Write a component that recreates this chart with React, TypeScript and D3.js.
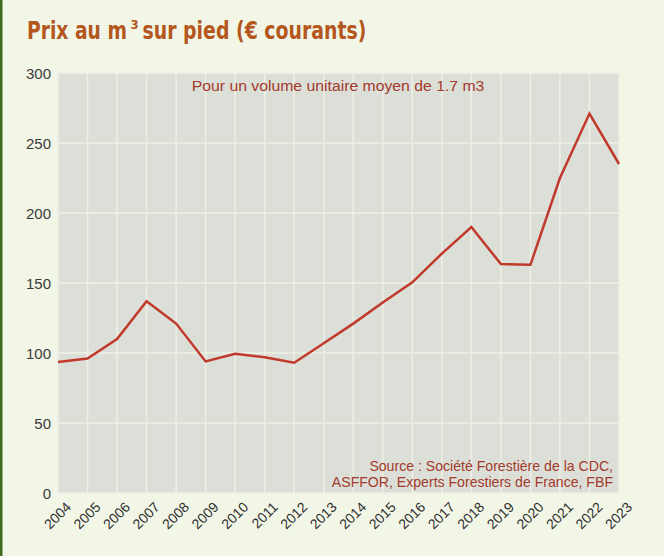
import React, { useLayoutEffect, useRef, useState } from "react";
import * as d3 from "d3";

const years = [2004, 2005, 2006, 2007, 2008, 2009, 2010, 2011, 2012, 2013, 2014, 2015, 2016, 2017, 2018, 2019, 2020, 2021, 2022, 2023];
const prices = [93.5, 96, 110, 137, 121, 94, 99.5, 97, 93, 107, 121, 136, 150.5, 171, 190, 163.5, 163, 225, 271, 235];
const yTicks = [0, 50, 100, 150, 200, 250, 300];
const titleA = "Prix au m";
const titleSup = "3";
const titleB = "sur pied (€ courants)";
const subtitle = "Pour un volume unitaire moyen de 1.7 m3";
const sourceLines = ["Source : Société Forestière de la CDC,", "ASFFOR, Experts Forestiers de France, FBF"];

const W = 664, H = 556;
const L = 58, R = 619, T = 73, B = 493;

export default function App() {
  const x = d3.scaleLinear().domain([years[0], years[years.length - 1]]).range([L, R]);
  const y = d3.scaleLinear().domain([0, 300]).range([B, T]);
  const line = d3.line<number>().x((_, i) => x(years[i])).y((d) => y(d));
  const sans = "'Liberation Sans', Arial, sans-serif";
  const titleFont = "'Liberation Sans Narrow', 'DejaVu Sans Condensed', 'Roboto Condensed', Roboto, sans-serif";
  const refA = useRef<SVGTextElement>(null);
  const refB = useRef<SVGTextElement>(null);
  const refS = useRef<SVGTextElement>(null);
  const [sc, setSc] = useState({ a: 1, b: 1, s: 1 });
  useLayoutEffect(() => {
    const wa = refA.current ? refA.current.getComputedTextLength() : 0;
    const wb = refB.current ? refB.current.getComputedTextLength() : 0;
    const ws = refS.current ? refS.current.getComputedTextLength() : 0;
    setSc({ a: wa ? 100 / wa : 1, b: wb ? 224 / wb : 1, s: ws ? 293 / ws : 1 });
  }, []);
  return (
    <svg width={W} height={H} style={{ position: "absolute", left: 0, top: 0 }}>
      <rect x={0} y={0} width={W} height={H} fill="#f2f6e7" />
      <rect x={0} y={0} width={2.5} height={H} fill="#3d6b1f" />
      <text ref={refA} transform={`translate(27,38.5) scale(${sc.a},1)`} fill="#b4561d" fontFamily={titleFont} fontWeight="bold" fontSize={24}>{titleA}</text>
      <text x={130.5} y={29} fill="#b4561d" fontFamily={titleFont} fontWeight="bold" fontSize={13}>{titleSup}</text>
      <text ref={refB} transform={`translate(142.5,38.5) scale(${sc.b},1)`} fill="#b4561d" fontFamily={titleFont} fontWeight="bold" fontSize={24}>{titleB}</text>
      <rect x={L} y={T} width={R - L} height={B - T} fill="#dcdfd8" />
      {yTicks.map((t) => (
        <line key={"h" + t} x1={L} x2={R} y1={y(t)} y2={y(t)} stroke="#eef0e4" strokeWidth={1.5} />
      ))}
      {years.map((yr) => (
        <line key={"v" + yr} x1={x(yr)} x2={x(yr)} y1={T} y2={B} stroke="#eef0e4" strokeWidth={1.5} />
      ))}
      <path d={line(prices) || ""} fill="none" stroke="#c0392b" strokeWidth={2.5} strokeLinejoin="miter" />
      {yTicks.map((t) => (
        <text key={"yl" + t} x={51} y={y(t) + 5.5} textAnchor="end" fill="#3a3a3a" fontFamily={sans} fontSize={15}>{t}</text>
      ))}
      {years.map((yr) => (
        <text key={"xl" + yr} transform={`translate(${x(yr) + 14},${B + 15}) rotate(-45)`} textAnchor="end" fill="#2e2e2e" fontFamily={sans} fontSize={14}>{yr}</text>
      ))}
      <text ref={refS} transform={`translate(338,91) scale(${sc.s},1)`} textAnchor="middle" fill="#a33a2c" fontFamily={sans} fontSize={15}>{subtitle}</text>
      {sourceLines.map((s, i) => (
        <text key={"s" + i} x={613} y={471 + i * 16} textAnchor="end" fill="#a33a2c" fontFamily={sans} fontSize={14.1}>{s}</text>
      ))}
    </svg>
  );
}
